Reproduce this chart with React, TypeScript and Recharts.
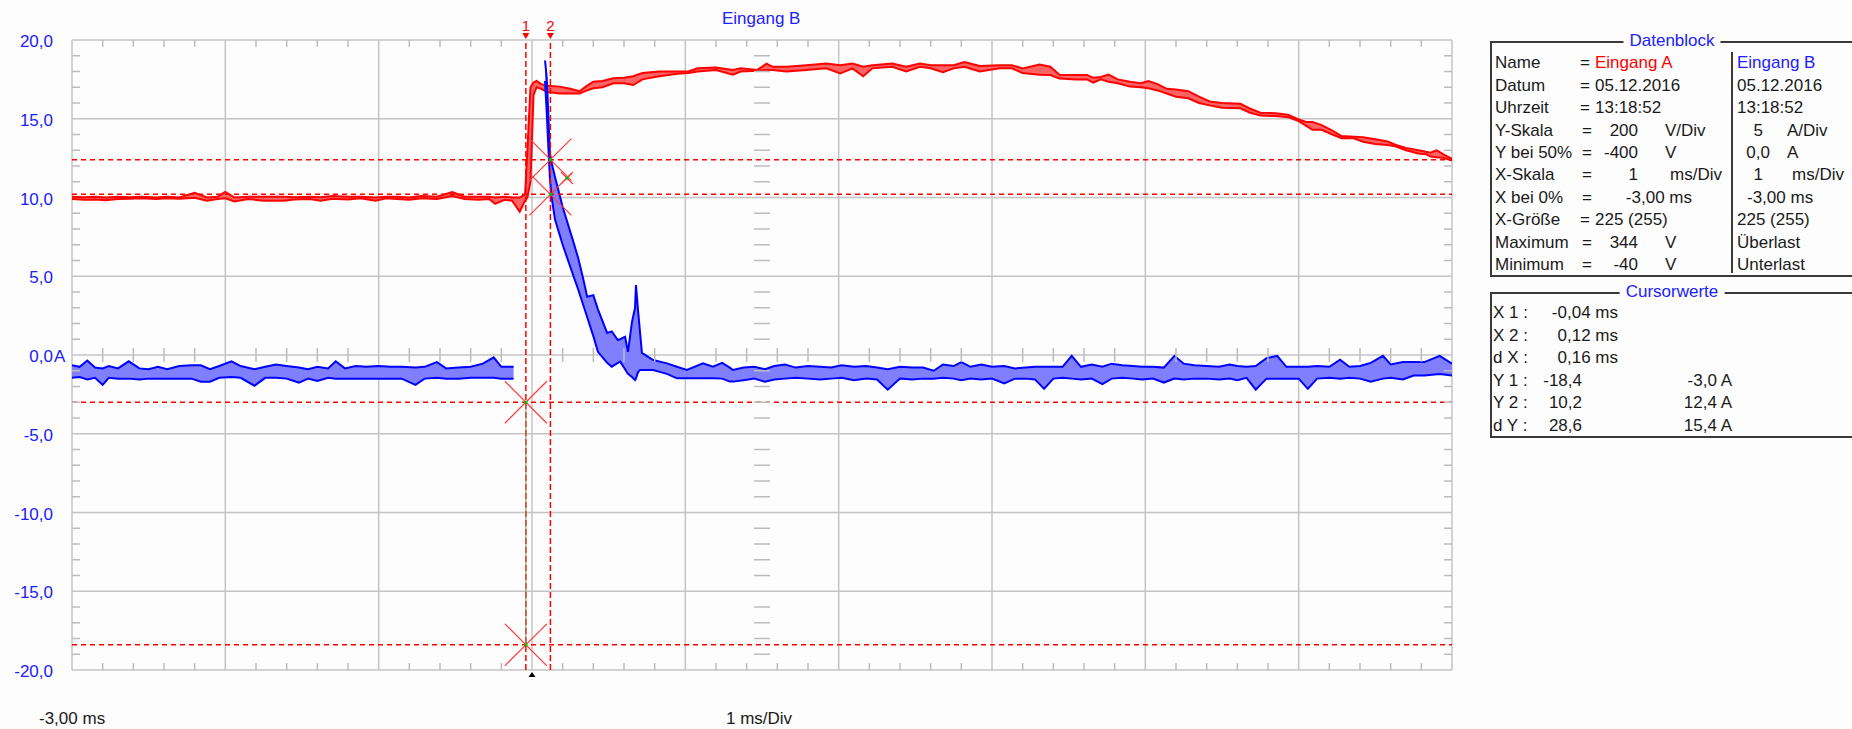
import {
  Area,
  CartesianGrid,
  ComposedChart,
  ReferenceDot,
  ReferenceLine,
  Scatter,
  XAxis,
  YAxis,
} from 'recharts'

const font = '"Liberation Sans", Arial, sans-serif'
const blue = '#2020ff'
const red = '#ff0000'
const ink = '#1a1a1a'

// Eingang A, min/max envelope in screen units
const redTime = [
  -3.0, -2.92, -2.85, -2.78, -2.7, -2.62, -2.55, -2.45, -2.38, -2.3, -2.2, -2.12, -2.05, -2.0, -1.94,
  -1.85, -1.75, -1.62, -1.55, -1.45, -1.38, -1.3, -1.2, -1.12, -1.02, -0.95, -0.88, -0.8, -0.72, -0.62,
  -0.52, -0.44, -0.35, -0.28, -0.24, -0.18, -0.13, -0.08, -0.045, -0.03, -0.01, 0.01, 0.03, 0.06, 0.1,
  0.18, 0.25, 0.31, 0.36, 0.4, 0.46, 0.53, 0.6, 0.66, 0.72, 0.83, 0.95, 1.02, 1.08, 1.2, 1.31, 1.36,
  1.47, 1.53, 1.57, 1.66, 1.79, 1.92, 2.01, 2.09, 2.16, 2.22, 2.35, 2.44, 2.53, 2.6, 2.68, 2.75, 2.82,
  2.92, 3.05, 3.13, 3.2, 3.31, 3.38, 3.44, 3.55, 3.62, 3.66, 3.71, 3.76, 3.82, 3.9, 3.97, 4.02, 4.08,
  4.14, 4.2, 4.28, 4.35, 4.42, 4.5, 4.62, 4.68, 4.75, 4.85, 4.93, 5.0, 5.05, 5.09, 5.15, 5.22, 5.28,
  5.36, 5.42, 5.5, 5.58, 5.63, 5.7, 5.78, 5.83, 5.86, 5.9, 5.95, 6.0,
]
const redLow = [
  9.9, 9.85, 9.88, 9.82, 9.9, 9.92, 9.95, 9.9, 9.95, 9.92, 9.98, 9.8, 9.9, 9.95, 9.75,
  9.9, 9.8, 9.8, 9.88, 9.9, 9.8, 9.92, 9.88, 9.95, 9.8, 9.95, 9.9, 9.85, 9.95, 9.9,
  10.1, 9.9, 9.85, 9.9, 9.6, 9.85, 9.8, 9.1, 9.8, 10.0, 11.0, 16.5, 17.0, 16.9, 16.7,
  16.6, 16.6, 16.6, 16.8, 16.93, 17.0, 17.25, 17.25, 17.14, 17.5, 17.7, 17.85, 17.9, 18.0, 18.1, 17.8, 18.0,
  18.05, 18.1, 18.1, 18.0, 18.1, 18.2, 17.87, 18.2, 17.7, 18.2, 18.3, 18.0, 18.3, 18.2, 17.95, 18.2, 18.3,
  18.0, 18.2, 18.2, 17.9, 17.8, 17.78, 17.55, 17.5, 17.5, 17.3, 17.5, 17.35, 17.25, 17.04, 17.0, 16.93, 16.8,
  16.6, 16.4, 16.3, 16.0, 15.85, 15.7, 15.66, 15.4, 15.2, 15.17, 15.1, 14.85, 14.55, 14.3, 14.3, 14.0, 13.76,
  13.76, 13.54, 13.4, 13.33, 13.25, 13.0, 12.8, 12.75, 12.6, 12.55, 12.5, 12.35,
]
const redHigh = [
  10.05, 10.02, 10.05, 10.0, 10.05, 10.02, 10.05, 10.0, 10.05, 10.0, 10.3, 10.0, 10.05, 10.35, 10.0,
  10.05, 10.05, 10.05, 10.02, 10.05, 10.02, 10.1, 10.05, 10.05, 10.0, 10.05, 10.05, 10.0, 10.1, 10.05,
  10.35, 10.05, 10.05, 10.05, 10.0, 10.05, 10.0, 10.0, 10.2, 13.0, 17.0, 17.3, 17.4, 17.2, 17.1,
  17.04, 16.9, 16.75, 17.1, 17.35, 17.4, 17.57, 17.6, 17.7, 17.9, 18.0, 18.0, 18.0, 18.2, 18.25, 18.1, 18.2,
  18.1, 18.5, 18.3, 18.3, 18.4, 18.5, 18.4, 18.5, 18.3, 18.4, 18.5, 18.3, 18.5, 18.4, 18.4, 18.4, 18.6,
  18.35, 18.4, 18.4, 18.2, 18.45, 18.3, 17.8, 17.78, 17.78, 17.6, 17.65, 17.8, 17.5, 17.35, 17.25, 17.4, 17.2,
  16.9, 16.85, 16.75, 16.4, 16.1, 16.0, 15.95, 15.65, 15.38, 15.35, 15.25, 14.95, 14.8, 14.8, 14.6, 14.25, 13.9,
  13.86, 13.82, 13.7, 13.55, 13.35, 13.15, 13.0, 12.9, 12.85, 13.0, 12.7, 12.45,
]

// Eingang B before the trigger
const bluePreTime = [
  -3.0, -2.95, -2.9, -2.85, -2.8, -2.76, -2.7, -2.63, -2.56, -2.5, -2.44, -2.38, -2.3, -2.22, -2.16,
  -2.1, -2.04, -1.96, -1.9, -1.81, -1.74, -1.67, -1.6, -1.52, -1.46, -1.4, -1.33, -1.28, -1.22, -1.15,
  -1.08, -1.0, -0.92, -0.85, -0.76, -0.7, -0.62, -0.56, -0.48, -0.4, -0.32, -0.25, -0.2, -0.12,
]
const bluePreLow = [
  -1.45, -1.4, -1.55, -1.45, -1.9, -1.45, -1.5, -1.5, -1.55, -1.5, -1.5, -1.5, -1.5, -1.5, -1.7,
  -1.7, -1.45, -1.4, -1.45, -1.95, -1.45, -1.45, -1.5, -1.75, -1.5, -1.65, -1.45, -1.5, -1.5, -1.5,
  -1.5, -1.5, -1.5, -1.5, -1.9, -1.5, -1.45, -1.5, -1.5, -1.45, -1.45, -1.45, -1.5, -1.5,
]
const bluePreHigh = [
  -0.65, -0.75, -0.35, -0.8, -0.85, -0.7, -0.85, -0.4, -0.85, -0.9, -0.75, -0.9, -0.7, -0.65, -0.65,
  -0.9, -0.7, -0.4, -0.7, -0.9, -0.75, -0.6, -0.7, -0.8, -0.9, -0.75, -0.85, -0.4, -0.85, -0.7,
  -0.75, -0.7, -0.75, -0.75, -0.8, -0.75, -0.45, -0.85, -0.8, -0.75, -0.55, -0.15, -0.75, -0.75,
]

// Eingang B from the current pulse on
const blueTime = [
  0.085, 0.096, 0.106, 0.117, 0.128, 0.15, 0.2, 0.26, 0.3, 0.33, 0.36, 0.4, 0.43, 0.49, 0.52, 0.56,
  0.575, 0.607, 0.626, 0.652, 0.672, 0.678, 0.691, 0.704, 0.717, 0.79, 0.88, 0.945, 1.01, 1.115, 1.18,
  1.24, 1.29, 1.31, 1.38, 1.45, 1.52, 1.58, 1.65, 1.72, 1.8, 1.88, 1.95, 2.02, 2.1, 2.18, 2.25, 2.32,
  2.4, 2.48, 2.55, 2.62, 2.68, 2.75, 2.8, 2.86, 2.93, 3.0, 3.08, 3.15, 3.22, 3.28, 3.34, 3.4, 3.46, 3.52,
  3.58, 3.65, 3.72, 3.78, 3.85, 3.92, 3.98, 4.05, 4.12, 4.19, 4.25, 4.32, 4.4, 4.48, 4.55, 4.6, 4.66,
  4.72, 4.79, 4.86, 4.92, 5.0, 5.06, 5.12, 5.2, 5.27, 5.33, 5.4, 5.47, 5.55, 5.6, 5.68, 5.75, 5.82, 5.92,
  6.0,
]
const blueLow = [
  17.4, 15.4, 13.3, 11.2, 10.0, 8.6, 7.0, 5.3, 4.2, 3.3, 2.4, 1.2, 0.2, -0.5, -0.74, -0.5,
  -0.42, -0.9, -1.2, -1.4, -1.6, -1.5, -1.1, -0.95, -0.95, -0.95, -1.2, -1.48, -1.48, -1.48, -1.48,
  -1.5, -1.69, -1.69, -1.6, -1.5, -1.7, -1.55, -1.5, -1.45, -1.5, -1.55, -1.5, -1.45, -1.6, -1.5, -1.55, -2.2,
  -1.5, -1.55, -1.5, -1.5, -1.45, -1.5, -1.6, -1.5, -1.55, -1.5, -1.8, -1.5, -1.5, -1.55, -2.15, -1.5, -1.45, -1.5,
  -1.55, -1.5, -1.85, -1.5, -1.45, -1.5, -1.55, -1.5, -1.75, -1.5, -1.55, -1.5, -1.5, -1.55, -1.5, -1.6, -1.45,
  -2.2, -1.5, -1.5, -1.5, -1.5, -2.15, -1.5, -1.45, -1.5, -1.45, -1.5, -1.7, -1.5, -1.45, -1.55, -1.3, -1.3, -1.2,
  -1.3,
]
const blueHigh = [
  18.7, 17.6, 15.4, 12.8, 12.2, 11.3, 9.4, 7.5, 6.2, 5.0, 3.7, 3.8, 2.9, 1.4, 1.5, 0.95,
  1.0, 1.16, 0.2, 2.1, 3.0, 4.44, 2.9, 1.5, 0.13, -0.32, -0.53, -0.75, -0.95, -0.53, -0.74,
  -0.5, -0.8, -0.95, -0.8, -0.75, -0.9, -0.7, -0.6, -0.8, -0.7, -0.75, -0.8, -0.65, -0.75, -0.7, -0.8, -0.9,
  -0.75, -0.8, -0.8, -1.0, -0.6, -0.7, -0.45, -0.75, -0.6, -0.75, -0.7, -0.85, -0.8, -0.75, -0.75, -0.75, -0.75, -0.05,
  -0.75, -0.6, -0.75, -0.55, -0.65, -0.7, -0.75, -0.75, -0.8, -0.05, -0.55, -0.65, -0.7, -0.75, -0.6, -0.7, -0.75,
  -0.7, -0.2, -0.05, -0.75, -0.75, -0.75, -0.7, -0.75, -0.3, -0.75, -0.7, -0.5, -0.05, -0.6, -0.45, -0.45, -0.45, -0.05,
  -0.55,
]

const xTicks = [-3, -2, -1, 0, 1, 2, 3, 4, 5, 6]
const yTicks = [-20, -15, -10, -5, 0, 5, 10, 15, 20]

const cursorX = [-0.04, 0.12]
const cursorYA = [-18.4, 10.2]
const cursorYB = [-3.0, 12.4]

const blockLabels = ['Name', 'Datum', 'Uhrzeit', 'Y-Skala', 'Y bei 50%', 'X-Skala', 'X bei 0%', 'X-Größe', 'Maximum', 'Minimum']
const blockA = [
  ['Eingang A', ''], ['05.12.2016', ''], ['13:18:52', ''], ['200', 'V/Div'], ['-400', 'V'],
  ['1', 'ms/Div'], ['-3,00 ms', ''], ['225 (255)', ''], ['344', 'V'], ['-40', 'V'],
]
const blockB = [
  ['Eingang B', ''], ['05.12.2016', ''], ['13:18:52', ''], ['5', 'A/Div'], ['0,0', 'A'],
  ['1', 'ms/Div'], ['-3,00 ms', ''], ['225 (255)', ''], ['Überlast', ''], ['Unterlast', ''],
]

const cursorLabels = ['X 1 :', 'X 2 :', 'd X :', 'Y 1 :', 'Y 2 :', 'd Y :']
const cursorA = ['-0,04 ms', '0,12 ms', '0,16 ms', '-18,4', '10,2', '28,6']
const cursorB = ['', '', '', '-3,0 A', '12,4 A', '15,4 A']

const toBand = (t: number[], lo: number[], hi: number[]) =>
  t.map((x, i) => ({ t: x, band: [lo[i], hi[i]] }))

const redData = toBand(redTime, redLow, redHigh)
const bluePreData = toBand(bluePreTime, bluePreLow, bluePreHigh)
const blueData = toBand(blueTime, blueLow, blueHigh)

// small scale marks on the frame and on the centre cross
const minorTicks: any[] = []
for (let i = 0; i < xTicks.length - 1; i++) {
  for (let k = 1; k < 5; k++) {
    const t = xTicks[i] + k / 5
    minorTicks.push({ t, v: 20, x1: 0, y1: 0, x2: 0, y2: 7 })
    minorTicks.push({ t, v: -20, x1: 0, y1: 0, x2: 0, y2: -7 })
    minorTicks.push({ t, v: 0, x1: 0, y1: -7, x2: 0, y2: 7 })
  }
}
for (let j = 0; j < yTicks.length - 1; j++) {
  for (let k = 1; k < 5; k++) {
    const v = yTicks[j] + k
    minorTicks.push({ t: -3, v, x1: 0, y1: 0, x2: 8, y2: 0 })
    minorTicks.push({ t: 6, v, x1: 0, y1: 0, x2: -8, y2: 0 })
    minorTicks.push({ t: 1.5, v, x1: -8, y1: 0, x2: 8, y2: 0 })
  }
}

const TickMark = (p: any) => (
  <line
    x1={p.cx + p.payload.x1}
    y1={p.cy + p.payload.y1}
    x2={p.cx + p.payload.x2}
    y2={p.cy + p.payload.y2}
    stroke="#bcbcbc"
    strokeWidth={1.5}
  />
)

const YTick = ({ y, payload }: any) => {
  const v = payload.value as number
  const s = v.toFixed(1).replace('.', ',')
  return (
    <g>
      <text x={53} y={y} dy={7} textAnchor="end" fill={blue} fontSize={17} fontFamily={font}>
        {s}
      </text>
      {v === 0 && (
        <text x={54} y={y} dy={7} fill={blue} fontSize={17} fontFamily={font}>
          A
        </text>
      )}
    </g>
  )
}

const CursorLabel = ({ viewBox, text }: any) => {
  const x = viewBox.x
  const y = viewBox.y
  return (
    <g>
      <text x={x} y={y - 9} textAnchor="middle" fill={red} fontSize={15} fontFamily={font}>
        {text}
      </text>
      <path d={`M${x - 3.5},${y - 7} L${x + 3.5},${y - 7} L${x},${y - 1} Z`} fill={red} />
    </g>
  )
}

const cross = (size: number) => (p: any) => (
  <g>
    <line x1={p.cx - size} y1={p.cy - size} x2={p.cx + size} y2={p.cy + size} stroke="#ff3a3a" strokeWidth={1.2} />
    <line x1={p.cx - size} y1={p.cy + size} x2={p.cx + size} y2={p.cy - size} stroke="#ff3a3a" strokeWidth={1.2} />
    <rect x={p.cx - 1.5} y={p.cy - 1.5} width={3} height={3} fill="#00c000" />
  </g>
)

const TriggerMark = (p: any) => (
  <path d={`M${p.cx},${p.cy + 2} L${p.cx + 3.5},${p.cy + 7} L${p.cx - 3.5},${p.cy + 7} Z`} fill="#000" />
)

function Txt({ x, y, children, color = ink, align = 'start', size = 17 }: any) {
  const shift = align === 'end' ? 'translateX(-100%)' : align === 'middle' ? 'translateX(-50%)' : undefined
  return (
    <div
      style={{
        position: 'absolute',
        left: x,
        top: y - 11,
        height: 22,
        lineHeight: '22px',
        fontSize: size,
        color,
        whiteSpace: 'nowrap',
        transform: shift,
      }}
    >
      {children}
    </div>
  )
}

function Box({ top, height, title }: { top: number; height: number; title: string }) {
  return (
    <>
      <div
        style={{
          position: 'absolute',
          left: 1490,
          top,
          width: 420,
          height,
          border: '2px solid #3a3a3a',
          boxSizing: 'border-box',
        }}
      />
      <div
        style={{
          position: 'absolute',
          left: 1672,
          top: top - 11,
          height: 22,
          lineHeight: '22px',
          transform: 'translateX(-50%)',
          background: '#fdfdfd',
          padding: '0 6px',
          color: blue,
          fontSize: 17,
        }}
      >
        {title}
      </div>
    </>
  )
}

const rowY = (i: number) => 63.3 + i * 22.4
const curY = (i: number) => 313.3 + i * 22.5

export default function App() {
  return (
    <div
      style={{
        position: 'absolute',
        left: 0,
        top: 0,
        width: 1852,
        height: 729,
        background: '#fdfdfd',
        fontFamily: font,
        overflow: 'hidden',
      }}
    >
      <ComposedChart width={1852} height={729} margin={{ top: 40, right: 400, bottom: 59, left: 0 }}>
        <CartesianGrid stroke="#c4c4c4" strokeWidth={1.5} />
        <XAxis type="number" dataKey="t" domain={[-3, 6]} ticks={xTicks} allowDataOverflow hide />
        <YAxis
          type="number"
          domain={[-20, 20]}
          ticks={yTicks}
          width={72}
          tick={<YTick />}
          tickLine={false}
          axisLine={false}
          allowDataOverflow
        />
        <Scatter data={minorTicks} dataKey="v" shape={TickMark} isAnimationActive={false} />
        <Area
          data={redData}
          dataKey="band"
          type="linear"
          stroke={red}
          strokeWidth={2}
          fill="#ff6464"
          fillOpacity={1}
          dot={false}
          activeDot={false}
          isAnimationActive={false}
        />
        <Area
          data={bluePreData}
          dataKey="band"
          type="linear"
          stroke="#0000ff"
          strokeWidth={2}
          fill="#8080ff"
          fillOpacity={1}
          dot={false}
          activeDot={false}
          isAnimationActive={false}
        />
        <Area
          data={blueData}
          dataKey="band"
          type="linear"
          stroke="#0000ff"
          strokeWidth={2}
          fill="#8080ff"
          fillOpacity={1}
          dot={false}
          activeDot={false}
          isAnimationActive={false}
        />
        {[...cursorYA, ...cursorYB].map((v) => (
          <ReferenceLine key={'h' + v} y={v} stroke={red} strokeWidth={1.5} strokeDasharray="5 4" />
        ))}
        {cursorX.map((t, i) => (
          <ReferenceLine
            key={'v' + t}
            x={t}
            stroke={red}
            strokeWidth={1.5}
            strokeDasharray="6 3"
            label={<CursorLabel text={String(i + 1)} />}
          />
        ))}
        <ReferenceLine
          segment={[
            { x: cursorX[0], y: cursorYB[0] },
            { x: cursorX[0], y: cursorYA[0] },
          ]}
          stroke="#8c8a50"
          strokeWidth={1}
        />
        <ReferenceDot x={cursorX[0]} y={cursorYB[0]} r={1} shape={cross(21)} />
        <ReferenceDot x={cursorX[0]} y={cursorYA[0]} r={1} shape={cross(21)} />
        <ReferenceDot x={cursorX[1]} y={cursorYB[1]} r={1} shape={cross(21)} />
        <ReferenceDot x={cursorX[1]} y={cursorYA[1]} r={1} shape={cross(21)} />
        <ReferenceDot x={0.228} y={11.24} r={1} shape={cross(6)} />
        <ReferenceDot x={0} y={-20} r={1} shape={TriggerMark} ifOverflow="visible" />
      </ComposedChart>

      <Txt x={722} y={19} color={blue}>Eingang B</Txt>
      <Txt x={39} y={719}>-3,00 ms</Txt>
      <Txt x={726} y={719}>1 ms/Div</Txt>

      <Box top={41} height={236} title="Datenblock" />
      <div style={{ position: 'absolute', left: 1731, top: 52, width: 2, height: 221, background: '#3a3a3a' }} />
      {blockLabels.map((l, i) => (
        <Txt key={l} x={1495} y={rowY(i)}>{l}</Txt>
      ))}
      {blockA.map(([val, unit], i) => {
        const y = rowY(i)
        if (unit) {
          return (
            <div key={'a' + i}>
              <Txt x={1582} y={y}>=</Txt>
              <Txt x={1638} y={y} align="end">{val}</Txt>
              <Txt x={unit === 'ms/Div' ? 1670 : 1665} y={y}>{unit}</Txt>
            </div>
          )
        }
        if (i === 6) {
          return (
            <div key={'a' + i}>
              <Txt x={1582} y={y}>=</Txt>
              <Txt x={1692} y={y} align="end">{val}</Txt>
            </div>
          )
        }
        return (
          <div key={'a' + i}>
            <Txt x={1580} y={y}>=</Txt>
            <Txt x={1595} y={y} color={i === 0 ? red : ink}>{val}</Txt>
          </div>
        )
      })}
      {blockB.map(([val, unit], i) => {
        const y = rowY(i)
        if (unit) {
          return (
            <div key={'b' + i}>
              <Txt x={unit === 'A' ? 1770 : 1763} y={y} align="end">{val}</Txt>
              <Txt x={unit === 'ms/Div' ? 1792 : 1787} y={y}>{unit}</Txt>
            </div>
          )
        }
        return (
          <Txt key={'b' + i} x={i === 6 ? 1747 : 1737} y={y} color={i === 0 ? blue : ink}>
            {val}
          </Txt>
        )
      })}

      <Box top={292} height={146} title="Cursorwerte" />
      {cursorLabels.map((l, i) => (
        <Txt key={l} x={1493} y={curY(i)}>{l}</Txt>
      ))}
      {cursorA.map((v, i) => (
        <Txt key={'ca' + i} x={i < 3 ? 1618 : 1582} y={curY(i)} align="end">{v}</Txt>
      ))}
      {cursorB.map((v, i) =>
        v ? (
          <Txt key={'cb' + i} x={1732} y={curY(i)} align="end">{v}</Txt>
        ) : null,
      )}
    </div>
  )
}
